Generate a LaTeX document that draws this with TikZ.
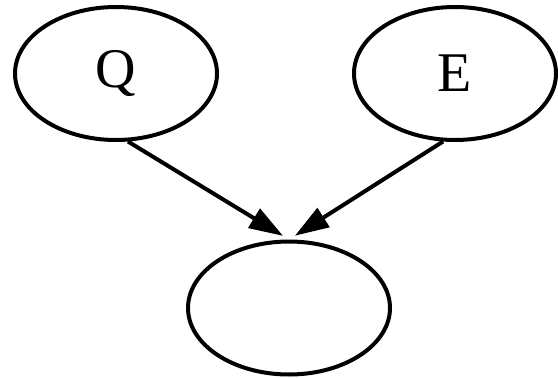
\documentclass[tikz,border=0pt]{standalone}
\usepackage{fontspec}
\setmainfont{Liberation Serif}
\usetikzlibrary{arrows.meta,shapes.geometric}
\definecolor{ink}{HTML}{000000}
\tikzset{
  state node/.style={
    draw=ink,
    ellipse,
    line width=4pt,
    minimum width=202pt,
    minimum height=133pt,
    inner sep=0pt,
    font=\fontsize{56}{64}\selectfont,
    text=ink
  },
  flow edge/.style={
    -{Triangle[length=34pt,width=22pt]},
    draw=ink,
    line width=4pt,
    shorten >=7pt
  }
}
\begin{document}
\begin{tikzpicture}[x=1pt,y=-1pt]
  \useasboundingbox (0,0) rectangle (558,378);

  % top row: the two inputs
  \node[state node] (q) at (116,73.5) {Q};
  \node[state node] (e) at (455,73.5) {E};
  % bottom: the empty target
  \node[state node] (out) at (289,308) {};

  \draw[flow edge] (q.-80) -- (out.north);
  \draw[flow edge] (e.-100) -- (out.north);
\end{tikzpicture}
\end{document}
